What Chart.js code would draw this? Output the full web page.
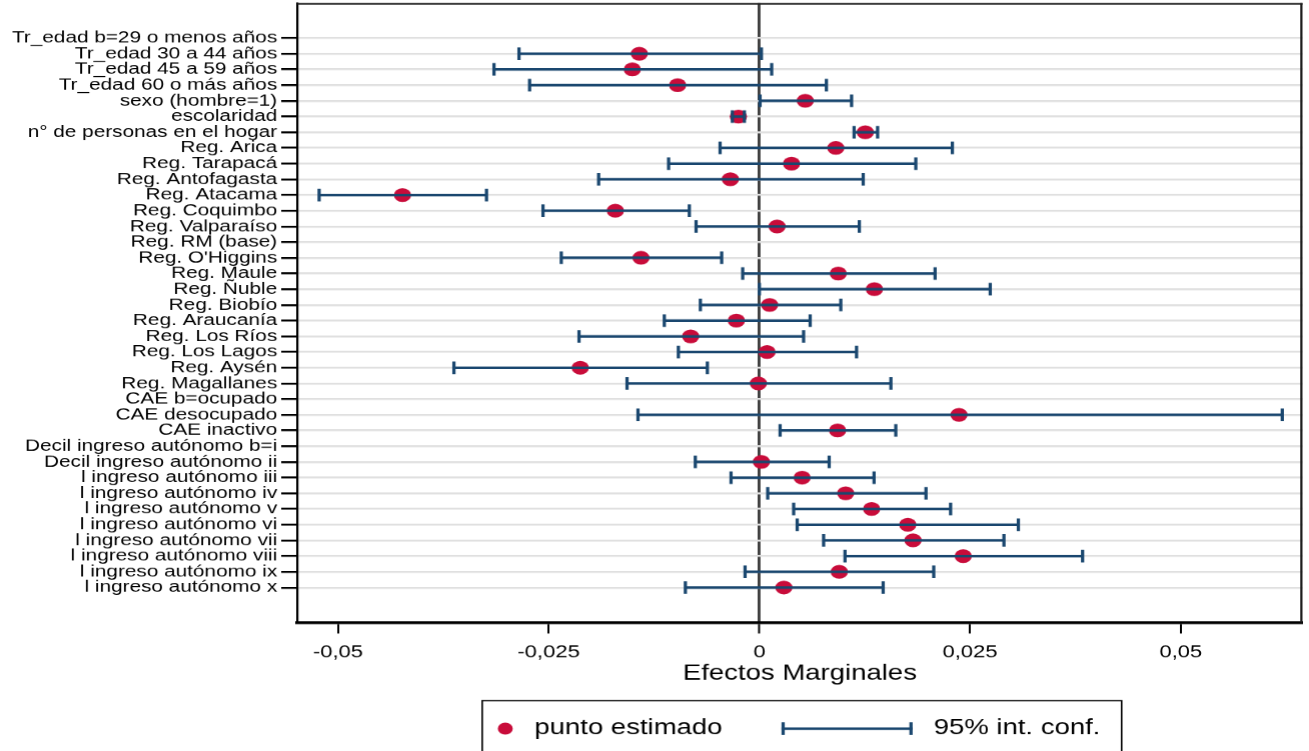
<!DOCTYPE html>
<html><head><meta charset="utf-8">
<script src="https://cdn.jsdelivr.net/npm/chart.js@4/dist/chart.umd.min.js"></script>
<style>
html,body{margin:0;padding:0;background:#fff;overflow:hidden;width:1309px;height:751px;}
#wrap{position:absolute;left:0;top:0;width:1047px;height:751px;transform-origin:0 0;transform:scaleX(1.250239);}
canvas{display:block;}
</style></head><body>
<div id="wrap"><canvas id="c" width="1047" height="751" style="width:1047px;height:751px"></canvas></div>
<script>
const categories = [
  'Tr_edad b=29 o menos años','Tr_edad 30 a 44 años','Tr_edad 45 a 59 años','Tr_edad 60 o más años',
  'sexo (hombre=1)','escolaridad','n° de personas en el hogar',
  'Reg. Arica','Reg. Tarapacá','Reg. Antofagasta','Reg. Atacama','Reg. Coquimbo','Reg. Valparaíso',
  'Reg. RM (base)',"Reg. O'Higgins",'Reg. Maule','Reg. Ñuble','Reg. Biobío','Reg. Araucanía',
  'Reg. Los Ríos','Reg. Los Lagos','Reg. Aysén','Reg. Magallanes',
  'CAE b=ocupado','CAE desocupado','CAE inactivo',
  'Decil ingreso autónomo b=i','Decil ingreso autónomo ii','l ingreso autónomo iii','l ingreso autónomo iv',
  'l ingreso autónomo v','l ingreso autónomo vi','l ingreso autónomo vii','l ingreso autónomo viii',
  'l ingreso autónomo ix','l ingreso autónomo x'
];
const estimates = [
  null, -0.01424, -0.01507, -0.00970,
  0.00545, -0.00249, 0.01257,
  0.00907, 0.00382, -0.00344, -0.04234, -0.01709, 0.00210,
  null, -0.01404, 0.00936, 0.01365, 0.00122, -0.00273,
  -0.00815, 0.00091, -0.02125, -0.00012,
  null, 0.02369, 0.00928,
  null, 0.00024, 0.00508, 0.01024,
  0.01332, 0.01761, 0.01823, 0.02419,
  0.00948, 0.00291
];
const ciLower = [
  null, -0.02852, -0.03149, -0.02726,
  0.00008, -0.00320, 0.01124,
  -0.00466, -0.01077, -0.01907, -0.05223, -0.02567, -0.00751,
  null, -0.02350, -0.00198, 0.00000, -0.00700, -0.01128,
  -0.02140, -0.00961, -0.03624, -0.01570,
  null, -0.01440, 0.00246,
  null, -0.00760, -0.00336, 0.00099,
  0.00407, 0.00449, 0.00762, 0.01016,
  -0.00170, -0.00878
];
const ciUpper = [
  null, 0.00024, 0.00146, 0.00795,
  0.01094, -0.00178, 0.01403,
  0.02290, 0.01856, 0.01232, -0.03237, -0.00831, 0.01186,
  null, -0.00447, 0.02085, 0.02739, 0.00966, 0.00603,
  0.00525, 0.01153, -0.00617, 0.01561,
  null, 0.06205, 0.01619,
  null, 0.00828, 0.01361, 0.01977,
  0.02269, 0.03073, 0.02902, 0.03835,
  0.02069, 0.01469
];
const xTickValues = [-0.05, -0.025, 0, 0.025, 0.05];
const xTickLabels = ['-0,05', '-0,025', '0', '0,025', '0,05'];
const xTitle = 'Efectos Marginales';
const legendLabels = ['punto estimado', '95% int. conf.'];

const RED = '#c80c3a';
const NAVY = '#1a476f';
const FONT = "'Liberation Sans', Arial, Helvetica, sans-serif";

Chart.defaults.font.family = FONT;
Chart.defaults.color = '#000';

// point data built from arrays
const dotData = [];
const ciData = [];
categories.forEach((c, i) => {
  if (estimates[i] !== null) dotData.push({x: estimates[i], y: i + 1});
  if (ciLower[i] !== null && ciUpper[i] !== null) {
    ciData.push({x: ciLower[i], y: i + 1});
    ciData.push({x: ciUpper[i], y: i + 1});
    ciData.push({x: null, y: null});
  }
});

const framePlugin = {
  id: 'frame',
  afterDatasetsDraw(chart) {
    const {ctx, chartArea: a} = chart;
    ctx.save();
    ctx.strokeStyle = '#1e1e1e';
    ctx.lineWidth = 1.6;
    ctx.beginPath(); ctx.moveTo(a.left, a.top + 0.8); ctx.lineTo(a.right, a.top + 0.8); ctx.stroke();
    ctx.lineWidth = 1.8;
    ctx.beginPath(); ctx.moveTo(a.right - 0.9, a.top); ctx.lineTo(a.right - 0.9, a.bottom); ctx.stroke();
    ctx.restore();
  }
};

// legend box below the axis title
const legendPlugin = {
  id: 'stataLegend',
  afterDraw(chart) {
    const ctx = chart.ctx;
    const y = 728;
    ctx.save();
    ctx.strokeStyle = '#000';
    ctx.lineWidth = 1.3;
    ctx.strokeRect(385.5, 700, 511.1, 80);
    ctx.fillStyle = RED;
    ctx.beginPath(); ctx.arc(403.9, y, 6, 0, Math.PI * 2); ctx.fill();
    ctx.strokeStyle = NAVY;
    ctx.lineWidth = 2.6;
    ctx.beginPath(); ctx.moveTo(624.7, y); ctx.lineTo(729.5, y); ctx.stroke();
    ctx.beginPath(); ctx.moveTo(626.0, y - 6.3); ctx.lineTo(626.0, y + 6.3); ctx.stroke();
    ctx.beginPath(); ctx.moveTo(728.2, y - 6.3); ctx.lineTo(728.2, y + 6.3); ctx.stroke();
    ctx.fillStyle = '#000';
    ctx.font = '22px ' + FONT;
    ctx.textAlign = 'left';
    ctx.textBaseline = 'middle';
    ctx.fillText(legendLabels[0], 427.1, y - 0.5);
    ctx.fillText(legendLabels[1], 746.3, y - 0.5);
    ctx.restore();
  }
};

new Chart(document.getElementById('c'), {
  type: 'scatter',
  data: {
    datasets: [
      {
        label: legendLabels[1],
        data: ciData,
        showLine: true,
        spanGaps: false,
        borderColor: NAVY,
        borderWidth: 2.6,
        pointStyle: 'line',
        rotation: 90,
        pointRadius: 6.3,
        pointBorderWidth: 2.6,
        pointBorderColor: NAVY,
        pointBackgroundColor: NAVY,
        order: 1
      },
      {
        label: legendLabels[0],
        data: dotData,
        pointStyle: 'circle',
        pointRadius: 6.9,
        pointBackgroundColor: RED,
        pointBorderWidth: 0,
        pointBorderColor: RED,
        order: 2
      }
    ]
  },
  options: {
    responsive: false,
    animation: false,
    devicePixelRatio: 1.25,
    layout: {autoPadding: false, padding: {left: 0, right: 5.8, top: 3, bottom: 44}},
    plugins: {
      tooltip: {enabled: false},
      legend: {display: false}
    },
    scales: {
      x: {
        type: 'linear',
        position: 'bottom',
        min: -0.05484,
        max: 0.06445,
        afterBuildTicks: (s) => { s.ticks = xTickValues.map(v => ({value: v})); },
        afterFit: (s) => { s.height = 85; s.paddingLeft = 0; s.paddingRight = 0; },
        ticks: {
          autoSkip: false,
          maxRotation: 0,
          padding: 8,
          font: {size: 17.6, family: FONT},
          color: '#000',
          callback: (v) => { const k = xTickValues.indexOf(v); return k >= 0 ? xTickLabels[k] : ''; }
        },
        grid: {
          z: -2,
          drawTicks: true,
          tickLength: 11,
          tickColor: '#000',
          tickWidth: 1.6,
          color: (c) => (c.tick && c.tick.value === 0) ? '#3e3e3e' : 'rgba(0,0,0,0)',
          lineWidth: (c) => (c.tick && c.tick.value === 0) ? 2.3 : 0
        },
        border: {display: true, color: '#000', width: 2.7},
        title: {
          display: true,
          text: xTitle,
          font: {size: 22, family: FONT},
          color: '#000',
          padding: {top: 0, bottom: 20.8}
        }
      },
      y: {
        type: 'linear',
        position: 'left',
        reverse: true,
        min: -1.2307,
        max: 38.2307,
        afterBuildTicks: (s) => { s.ticks = categories.map((c, i) => ({value: i + 1})); },
        afterFit: (s) => { s.width = 237.55; s.paddingTop = 0; s.paddingBottom = 0; },
        ticks: {
          autoSkip: false,
          padding: 3.2,
          font: {size: 16.6, family: FONT},
          color: '#000',
          callback: (v) => categories[Math.round(v) - 1] || ''
        },
        grid: {
          z: -1,
          drawTicks: true,
          tickLength: 12.75,
          tickColor: '#000',
          tickWidth: 2,
          color: '#e0e0e0',
          lineWidth: 2
        },
        border: {display: true, color: '#000', width: 1.8}
      }
    }
  },
  plugins: [framePlugin, legendPlugin]
});
</script>
</body></html>
